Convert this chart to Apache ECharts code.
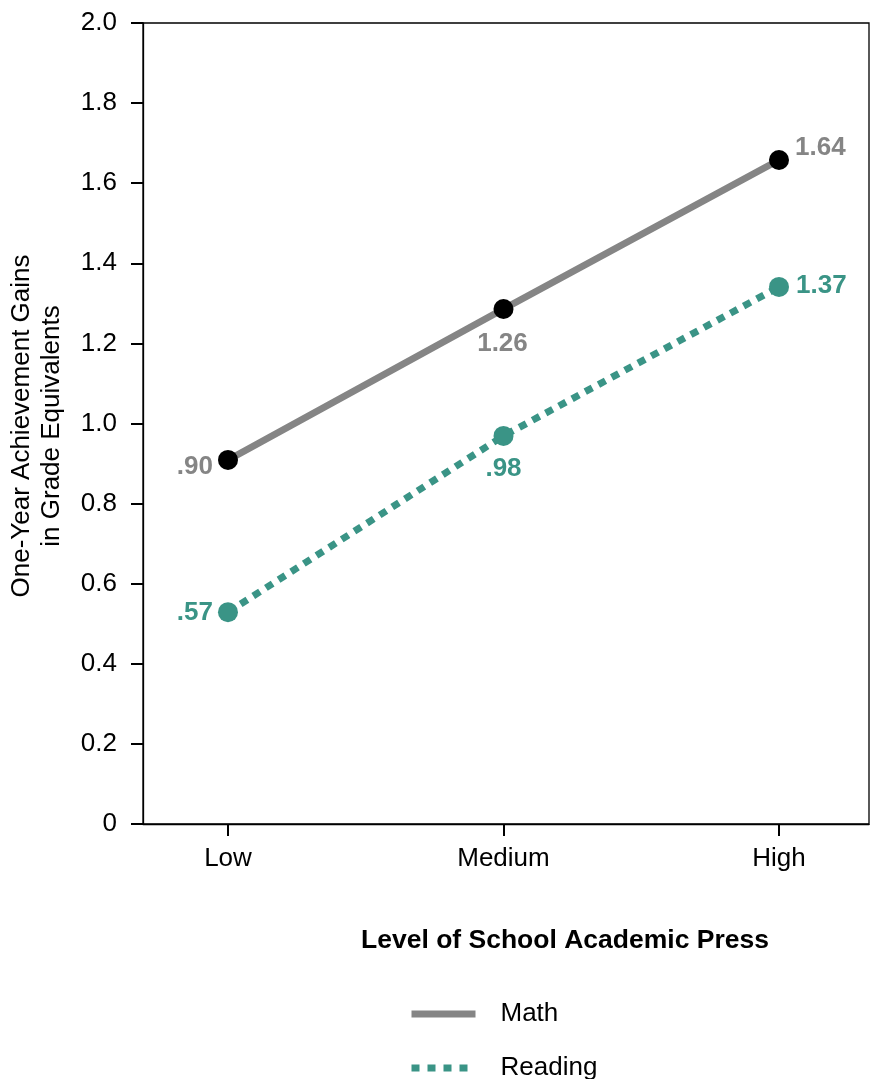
<!DOCTYPE html>
<html><head><meta charset="utf-8">
<script src="https://cdn.jsdelivr.net/npm/echarts@6/dist/echarts.min.js"></script>
<style>html,body{margin:0;padding:0;background:#fff}#c{width:871px;height:1079px}</style>
</head><body><div id="c"></div>
<script>
const categories = ['Low', 'Medium', 'High'];
const mathValues = [0.909, 1.286, 1.658];
const readingValues = [0.529, 0.969, 1.341];
const mathLabels = ['.90', '1.26', '1.64'];
const readingLabels = ['.57', '.98', '1.37'];
const yTicks = [0, 0.2, 0.4, 0.6, 0.8, 1.0, 1.2, 1.4, 1.6, 1.8, 2.0];

const GRAY = '#858585', TEAL = '#3a9486';
const FONT = 'Liberation Sans, Arial, sans-serif';

const mathPos = ['left', 'bottom', 'right'];
const mathOff = [[0, 7], [-1, 0], [0, -12]];
const mathDist = [5, 12, 6];
const readPos = ['left', 'bottom', 'right'];
const readOff = [[0, 1], [0, 0], [0, -1]];
const readDist = [5, 10, 7];

function pts(vals, labels, pos, off, dist, color) {
  return vals.map((v, i) => ({
    value: [i, v],
    label: {
      show: true, formatter: labels[i], position: pos[i], offset: off[i],
      distance: dist[i],
      color: color, fontWeight: 'bold', fontSize: 26, fontFamily: FONT
    }
  }));
}

const chart = echarts.init(document.getElementById('c'), null, {renderer: 'canvas'});
chart.setOption({
  animation: false,
  backgroundColor: '#fff',
  grid: {left: 143, top: 23, right: 2, bottom: 255, show: true, borderColor: '#000', borderWidth: 1.3, backgroundColor: 'transparent'},
  xAxis: {
    type: 'value', min: -0.3085, max: 2.3267,
    splitLine: {show: false},
    axisLine: {show: true, onZero: false, lineStyle: {color: '#000', width: 1.3}},
    axisTick: {show: true, length: 12, customValues: [0, 1, 2], lineStyle: {color: '#000', width: 2}},
    axisLabel: {customValues: [0, 1, 2], formatter: v => categories[Math.round(v)], margin: 22, fontSize: 26, color: '#000', fontFamily: FONT}
  },
  yAxis: {
    type: 'value', min: 0, max: 2, interval: 0.2,
    splitLine: {show: false},
    axisLine: {show: true, onZero: false, lineStyle: {color: '#000', width: 1.3}},
    axisTick: {show: true, inside: false, length: 12, lineStyle: {color: '#000', width: 2}},
    axisLabel: {
      margin: 26, fontSize: 26, color: '#000', fontFamily: FONT,
      customValues: yTicks,
      formatter: v => (Math.abs(v) < 1e-9 ? '0' : v.toFixed(1))
    }
  },
  legend: {
    type: 'plain', orient: 'vertical', left: 408, top: 1001, width: 300, height: 300, padding: 0,
    itemWidth: 64, itemHeight: 24, itemGap: 28,
    itemStyle: {opacity: 0},
    lineStyle: {width: 7},
    textStyle: {fontSize: 26, lineHeight: 24, color: '#000', fontFamily: FONT, padding: [0, 0, 0, 20]},
    data: [
      {name: 'Math', lineStyle: {width: 7, color: GRAY, type: 'solid'}},
      {name: 'Reading', lineStyle: {width: 7, color: TEAL, type: [8, 8], cap: 'butt'}}
    ]
  },
  series: [
    {
      name: 'Math', type: 'line', data: pts(mathValues, mathLabels, mathPos, mathOff, mathDist, GRAY),
      symbol: 'circle', symbolSize: 20,
      lineStyle: {color: GRAY, width: 7},
      itemStyle: {color: '#000'}, z: 3
    },
    {
      name: 'Reading', type: 'line', data: pts(readingValues, readingLabels, readPos, readOff, readDist, TEAL),
      symbol: 'circle', symbolSize: 20,
      lineStyle: {color: TEAL, width: 7, type: [8, 7], cap: 'butt'},
      itemStyle: {color: TEAL}, z: 3
    }
  ],
  graphic: [
    {type: 'text', x: 37, y: 426, rotation: Math.PI / 2,
     style: {text: 'One-Year Achievement Gains\nin Grade Equivalents', fontSize: 26, lineHeight: 30, fill: '#000', fontFamily: FONT, align: 'center', verticalAlign: 'middle'}},
    {type: 'text', x: 565, y: 941,
     style: {text: 'Level of School Academic Press', fontSize: 26.5, fontWeight: 'bold', fill: '#000', fontFamily: FONT, align: 'center', verticalAlign: 'middle'}}
  ]
});
</script></body></html>
